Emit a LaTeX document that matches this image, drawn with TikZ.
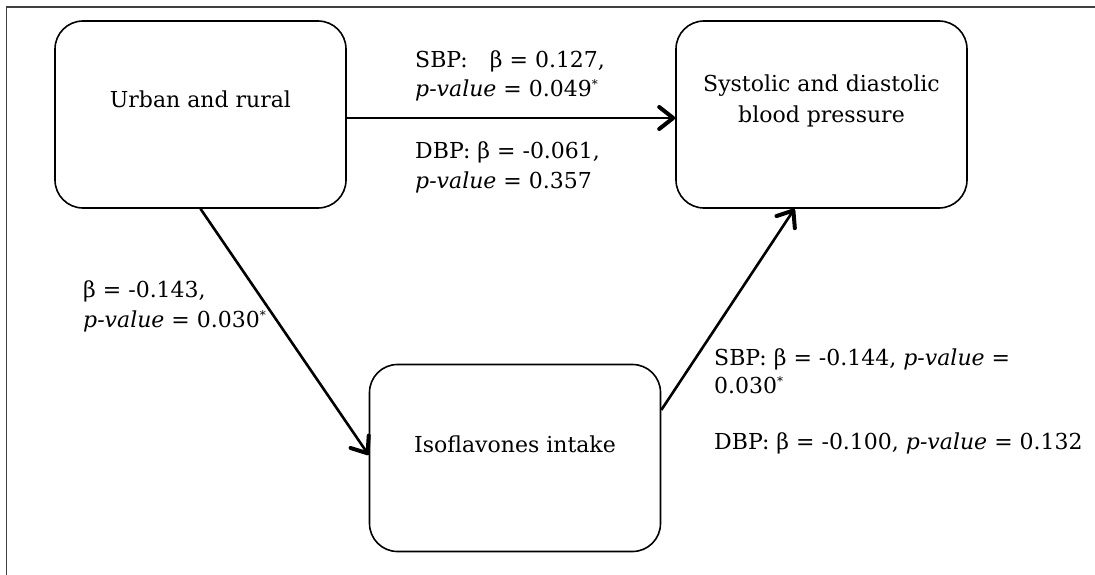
\documentclass[tikz,border=0pt]{standalone}
\usepackage{fontspec}
\setmainfont{DejaVu Serif}
\usetikzlibrary{arrows.meta,calc}
\newcommand\sigmark{{\fontsize{12}{12}\selectfont\raisebox{8pt}{*}}}
\begin{document}
\begin{tikzpicture}[x=1pt,y=-1pt, font=\fontsize{22}{29}\selectfont,
  box/.style={draw, line width=1.6pt, rounded corners=28pt, minimum width=291pt, minimum height=187pt, inner sep=0pt},
  txt/.style={anchor=base, inner sep=0pt},
  lbl/.style={anchor=base west, inner sep=0pt},
  link/.style={line width=2.6pt, -{Straight Barb[length=14pt,width=22pt,line width=4pt,round]}}]
\useasboundingbox (0,0) rectangle (1095,575);
\draw[line width=1.3pt, black!75] (6.5,575) -- (6.5,7) -- (1095,7);

\node[box] (b1) at (200.5,114.5) {};
\node[box] (b2) at (821.5,114.5) {};
\node[box] (b3) at (515,458) {};

\node[txt] (t1) at (200.5,108) {Urban and rural};
\node[txt] (t2a) at (821.5,92) {Systolic and diastolic};
\node[txt] (t2b) at (821.5,123) {blood pressure};
\node[txt] (t3) at (515,452) {Isoflavones intake};

\draw[link] ($(b1.east)+(0,3.5)$) -- ($(b2.west)+(0,3.5)$);
\draw[link] (b1.south) -- ($(b3.west)+(0,-3)$);
\draw[link] ($(b3.east)+(0,-48)$) -- ($(b2.south)+(-27,0)$);

\node[lbl] (l1a) at (415,68) {SBP:\hspace{22pt}β = 0.127,};
\node[lbl] (l1b) at (415,97) {\textit{p-value} = 0.049\sigmark};
\node[lbl] (l2a) at (415,159) {DBP: β = -0.061,};
\node[lbl] (l2b) at (415,188) {\textit{p-value} = 0.357};
\node[lbl] (l3a) at (83,297) {β = -0.143,};
\node[lbl] (l3b) at (83,327) {\textit{p-value} = 0.030\sigmark};
\node[lbl] (l4a) at (714,365) {SBP: β = -0.144, \textit{p-value} =};
\node[lbl] (l4b) at (714,393) {0.030\sigmark};
\node[lbl] (l5) at (714,449) {DBP: β = -0.100, \textit{p-value} = 0.132};
\end{tikzpicture}
\end{document}
